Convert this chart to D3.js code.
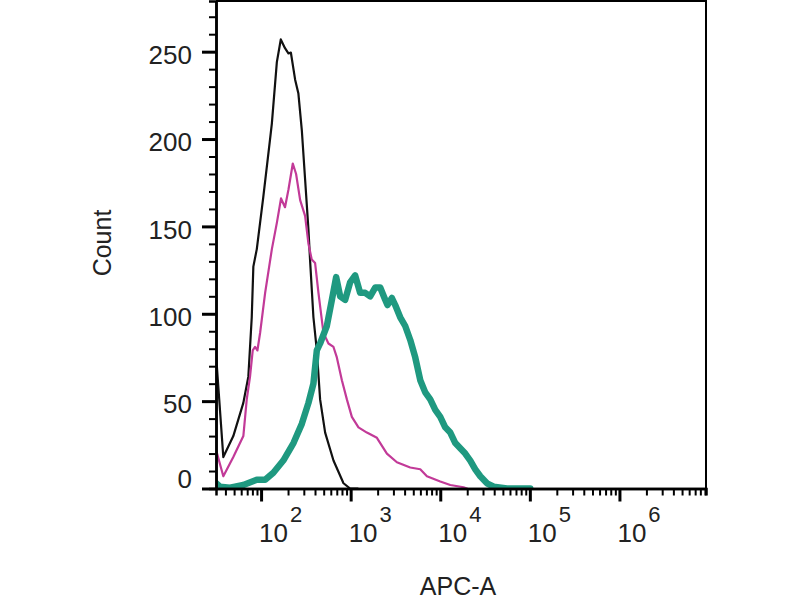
<!DOCTYPE html>
<html>
<head>
<meta charset="utf-8">
<script src="https://cdn.jsdelivr.net/npm/d3@7"></script>
<style>
  body { margin: 0; background: #fff; }
  text { font-family: "Liberation Sans", Arial, sans-serif; fill: #222; }
</style>
</head>
<body>
<div id="chart"></div>
<script>
// APC-A histogram overlay (counts)
var blackX = [31.5, 37.9, 49, 63.4, 72.1, 78.7, 82, 89.6, 106, 126, 132, 150, 166, 185, 202, 215, 240, 261, 285, 310, 338, 352, 384, 419, 456, 519, 643, 832, 986, 1200];
var blackY = [76, 18, 30, 49, 64, 98, 127, 137, 167, 200, 209, 244, 257, 252, 249, 249.5, 234, 226, 205, 177, 148, 131, 98, 79, 51, 32, 16, 3, 0, 0];

var magentaX = [31.5, 37.9, 49, 63.4, 69.2, 75.3, 80.7, 85.7, 91, 97.5, 111, 132, 150, 167, 185, 202, 226, 246, 273, 310, 338, 368, 401, 437, 497, 565, 643, 701, 798, 907, 1031, 1222, 1517, 1963, 2138, 2537, 3281, 4620, 5980, 7100, 10000, 12940, 18200, 19860];
var magentaY = [22, 7, 18, 30, 51, 64, 79, 81, 79, 89, 112, 137, 152, 166, 161, 171, 186, 180, 165, 156, 140, 131, 129, 112, 89, 83, 81, 75, 62, 51, 41, 35, 32, 29, 26, 20, 15, 12, 11, 7, 4, 2, 0.7, 0];

var tealX = [31.5, 34.8, 45, 63.4, 89.6, 111, 137, 177, 230, 285, 338, 384, 419, 456, 542, 617, 689, 764, 868, 986, 1122, 1276, 1452, 1651, 1878, 2137, 2429, 2576, 2885, 3142, 3574, 4064, 4624, 5260, 5983, 6800, 7735, 8800, 10000, 11370, 12940, 14720, 16720, 19010, 21630, 24600, 27990, 33240, 39470, 55600, 101000];
var tealY = [3, 1, 0.5, 2, 5, 5, 9, 16, 26, 37, 49, 60, 79, 83, 93, 108, 121, 110, 108, 118, 122, 112, 112, 110, 115, 115, 108, 105, 109, 105, 98, 93, 85, 75, 62, 55, 51, 45, 41, 35, 32, 26, 23, 20, 16, 11, 7, 3, 1, 0, 0];

var yMajor = [0, 50, 100, 150, 200, 250];
var xDecades = [2, 3, 4, 5, 6];

var W = 800, H = 600;
var plotL = 216, plotR = 706, plotT = 1, plotB = 488.5;

var svg = d3.select("#chart").append("svg")
    .attr("width", W)
    .attr("height", H);

var x = d3.scaleLog()
    .domain([31.4, 9.25e6])
    .range([plotL, plotR]);

var y = d3.scaleLinear()
    .domain([0, 279])
    .range([plotB, plotT]);

// minor ticks
var yMinor = d3.range(0, 280, 10).filter(function (v) { return v % 50 != 0; });
var xMinor = [];
for (var e = 1; e <= 6; e++) {
    for (var m = 2; m <= 9; m++) {
        var v = m * Math.pow(10, e);
        if (v >= 31.4 && v <= 9.25e6) xMinor.push(v);
    }
}

svg.append("defs").append("clipPath").attr("id", "plot")
    .append("rect")
    .attr("x", plotL).attr("y", plotT)
    .attr("width", plotR - plotL).attr("height", plotB - plotT);

// curves
var curves = [
    { xs: blackX, ys: blackY, color: "#111", w: 2.2 },
    { xs: magentaX, ys: magentaY, color: "#c23a98", w: 2.2 },
    { xs: tealX, ys: tealY, color: "#1f9980", w: 6.5 }
];

var line = d3.line()
    .x(function (d) { return x(d[0]); })
    .y(function (d) { return y(d[1]); });

curves.forEach(function (c) {
    var pts = c.xs.map(function (v, i) { return [v, c.ys[i]]; });
    svg.append("path")
        .datum(pts)
        .attr("clip-path", "url(#plot)")
        .attr("fill", "none")
        .attr("stroke", c.color)
        .attr("stroke-width", c.w)
        .attr("stroke-linejoin", "round")
        .attr("stroke-linecap", "round")
        .attr("d", line);
});

// frame top/right
svg.append("path")
    .attr("d", "M" + plotL + "," + plotT + "H" + plotR + "V" + plotB)
    .attr("fill", "none")
    .attr("stroke", "#000")
    .attr("stroke-width", 2);

// y axis
var yAxisMinor = svg.append("g")
    .attr("transform", "translate(" + plotL + ",0)")
    .call(d3.axisLeft(y).tickValues(yMinor).tickSize(7).tickFormat(""));

var yAxis = svg.append("g")
    .attr("transform", "translate(" + plotL + ",0)")
    .call(d3.axisLeft(y).tickValues(yMajor).tickSize(14).tickPadding(10).tickSizeOuter(0));

yAxis.selectAll("text")
    .style("font-size", "26px")
    .attr("dy", function (d) { return d == 0 ? "-0.02em" : "0.45em"; });

// x axis
var xAxisMinor = svg.append("g")
    .attr("transform", "translate(0," + plotB + ")")
    .call(d3.axisBottom(x).tickValues(xMinor).tickSize(7).tickFormat(""));

var xAxis = svg.append("g")
    .attr("transform", "translate(0," + plotB + ")")
    .call(d3.axisBottom(x).tickValues(xDecades.map(function (d) { return Math.pow(10, d); }))
        .tickSize(13).tickFormat("").tickSizeOuter(0));

[yAxisMinor, yAxis, xAxisMinor, xAxis].forEach(function (g) {
    g.select(".domain").attr("stroke", "#000").attr("stroke-width", 2.5);
    g.selectAll(".tick line").attr("stroke", "#000").attr("stroke-width", 2);
});
yAxis.selectAll(".tick line").attr("stroke-width", 3);
xAxis.selectAll(".tick line").attr("stroke-width", 3);

// decade labels
var lab = svg.append("g").selectAll("text")
    .data(xDecades)
    .enter().append("text")
    .attr("x", function (d) { return x(Math.pow(10, d)) - 2; })
    .attr("y", 542)
    .style("font-size", "26px");
lab.append("tspan").text("10");
lab.append("tspan")
    .attr("dx", 2)
    .attr("dy", -20)
    .style("font-size", "22px")
    .text(function (d) { return d; });

// axis titles
svg.append("text")
    .attr("transform", "translate(111,243) rotate(-90)")
    .attr("text-anchor", "middle")
    .style("font-size", "25px")
    .text("Count");

svg.append("text")
    .attr("x", 458)
    .attr("y", 595)
    .attr("text-anchor", "middle")
    .style("font-size", "25px")
    .text("APC-A");
</script>
</body>
</html>
